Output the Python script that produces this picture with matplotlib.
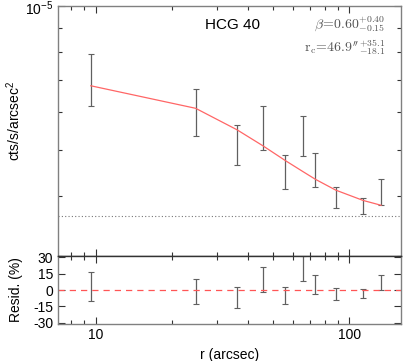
import numpy as np
import matplotlib.pyplot as plt
from matplotlib.ticker import LogLocator, NullFormatter, FixedLocator, FixedFormatter

plt.rcParams['font.family'] = ['Liberation Sans', 'DejaVu Sans']
plt.rcParams['font.size'] = 10

# radial bins (arcsec)
r = [9.58, 24.8, 36.1, 45.7, 56.0, 65.9, 73.6, 88.5, 113.5, 133.6]
# surface brightness (cts/s/arcsec^2) and 1-sigma errors
sb = [7.06e-6, 6.03e-6, 5.14e-6, 5.58e-6, 4.51e-6, 5.38e-6, 4.55e-6, 3.98e-6, 3.82e-6, 4.09e-6]
sb_err = [0.89e-6, 0.68e-6, 0.50e-6, 0.585e-6, 0.36e-6, 0.52e-6, 0.375e-6, 0.205e-6, 0.15e-6, 0.25e-6]
# beta-model fit evaluated at the bins
model = [6.81e-6, 6.11e-6, 5.51e-6, 5.10e-6, 4.75e-6, 4.50e-6, 4.34e-6, 4.12e-6, 3.92e-6, 3.83e-6]
background = 3.63e-6
# residuals (%)
resid = [3.3, -1.65, -7.05, 9.45, -5.25, 19.5, 5.1, -3.75, -2.85, 6.75]
resid_err = [13.2, 11.25, 9.45, 11.55, 7.65, 11.1, 9.0, 5.25, 4.05, 6.75]

fig = plt.figure(figsize=(4.09, 3.61), dpi=100)
ax = fig.add_axes([57.5 / 409, 1 - 256 / 361, 343.5 / 409, 250 / 361])
axr = fig.add_axes([57.5 / 409, 1 - 324 / 361, 343.5 / 409, 68 / 361])

ecol = '#606060'
for a in (ax, axr):
    a.set_xscale('log')
    a.set_xlim(7.08, 160)
    a.tick_params(which='both', direction='in', top=True, right=True, colors='#333333', labelcolor='black')
    a.tick_params(which='major', length=5, width=0.8, pad=3)
    a.tick_params(which='minor', length=3, width=0.8)
    for s in a.spines.values():
        s.set_color('#808080')
        s.set_linewidth(1.0)

# top panel
ax.errorbar(r, sb, yerr=sb_err, fmt='none', ecolor=ecol, elinewidth=0.9, capsize=2, capthick=0.8)
ax.plot(r, model, color='#ff6666', lw=0.9)
ax.axhline(background, color='#777777', lw=0.8, ls=(0, (1, 2)))
ax.set_yscale('log')
ax.set_ylim(3e-6, 1e-5)
ax.yaxis.set_major_locator(FixedLocator([1e-5]))
ax.yaxis.set_major_formatter(NullFormatter())
ax.yaxis.set_minor_locator(LogLocator(base=10, subs=np.arange(2, 10)))
ax.yaxis.set_minor_formatter(NullFormatter())
ax.xaxis.set_major_formatter(NullFormatter())
ax.xaxis.set_minor_formatter(NullFormatter())
# the only labelled y tick, nudged down a little so it stays inside the figure
ax.text(-0.012, 0.962, r'$\mathregular{10^{-5}}$', transform=ax.transAxes, ha='right', va='baseline')
ax.set_ylabel(r'cts/s/arcsec$^\mathregular{2}$')
ax.yaxis.set_label_coords(-0.10, 0.54)
ax.spines['bottom'].set_color('#333333')

ax.text(0.51, 0.925, 'HCG 40', transform=ax.transAxes, ha='center', va='center', fontsize=11)
ax.text(0.955, 0.925, r'$\beta\!=\!0.60^{+0.40}_{-0.15}$', transform=ax.transAxes,
        ha='right', va='center', fontsize=10, color='#555555', math_fontfamily='cm')
ax.text(0.955, 0.835, r"$\mathrm{r_c}\!=\!46.9''^{+35.1}_{-18.1}$", transform=ax.transAxes,
        ha='right', va='center', fontsize=10, color='#555555', math_fontfamily='cm')

# residual panel
axr.errorbar(r, resid, yerr=resid_err, fmt='none', ecolor=ecol, elinewidth=0.9, capsize=2, capthick=0.8)
axr.axhline(0, color='#ff5555', lw=0.9, ls=(0, (5, 4)))
axr.set_ylim(-31, 31)
axr.set_yticks([-30, -15, 0, 15, 30])
axr.set_yticklabels(['-30', '-15', '0', '15', '30'])
axr.xaxis.set_major_locator(FixedLocator([10, 100]))
axr.xaxis.set_major_formatter(FixedFormatter(['10', '100']))
axr.xaxis.set_minor_formatter(NullFormatter())
axr.spines['top'].set_color('#333333')
axr.set_ylabel('Resid. (%)')
axr.yaxis.set_label_coords(-0.10, 0.5)
axr.set_xlabel('r (arcsec)', labelpad=4)

fig.savefig('out.png', dpi=100)
